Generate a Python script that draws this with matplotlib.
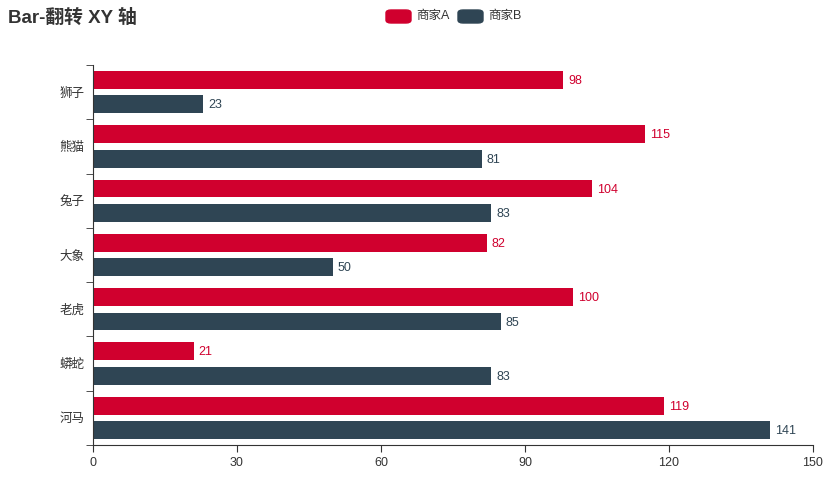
import numpy as np
import matplotlib.pyplot as plt
from matplotlib.patches import FancyBboxPatch

plt.rcParams['font.family'] = ['Liberation Sans', 'Noto Sans CJK SC', 'DejaVu Sans']

# data (top to bottom)
categories = ['狮子', '熊猫', '兔子', '大象', '老虎', '蟒蛇', '河马']
shop_a = [98, 115, 104, 82, 100, 21, 119]
shop_b = [23, 81, 83, 50, 85, 83, 141]
series_names = ['商家A', '商家B']
colors = ['#d0002e', '#2f4554']
x_ticks = [0, 30, 60, 90, 120, 150]

fig = plt.figure(figsize=(8.34, 4.83), dpi=100)
ax = fig.add_axes([0.1115, 0.0787, 0.8633, 0.7867])

y = np.arange(len(categories))
h = 0.33
off = 0.225
ax.barh(y - off, shop_a, height=h, color=colors[0])
ax.barh(y + off, shop_b, height=h, color=colors[1])

for yi, v in zip(y, shop_a):
    ax.text(v + 1, yi - off + 0.02, str(v), color=colors[0], fontsize=9, va='center', ha='left')
for yi, v in zip(y, shop_b):
    ax.text(v + 1, yi + off + 0.02, str(v), color=colors[1], fontsize=9, va='center', ha='left')

ax.set_xlim(0, 150)
ax.set_ylim(len(categories) - 0.5, -0.5)
ax.set_xticks(x_ticks)
ax.set_yticks(y)
ax.set_yticklabels(categories)
ax.set_yticks(np.arange(len(categories) + 1) - 0.5, minor=True)
ax.tick_params(axis='y', which='major', length=0, pad=6, labelsize=9, labelcolor='#333333')
ax.tick_params(axis='y', which='minor', length=5, color='#333333')
ax.tick_params(axis='x', length=5, color='#333333', labelsize=9, labelcolor='#333333')
for s in ['top', 'right']:
    ax.spines[s].set_visible(False)
for s in ['left', 'bottom']:
    ax.spines[s].set_color('#333333')

fig.text(8 / 834, 1 - 18 / 483, 'Bar-翻转 XY 轴', fontsize=13.5, fontweight='bold',
         color='#333333', va='center', ha='left')

# legend
lx = [386, 458]
for i, name in enumerate(series_names):
    fig.patches.append(FancyBboxPatch((lx[i] / 834, 1 - 23 / 483), 25 / 834, 13 / 483,
                                      boxstyle='round,pad=0,rounding_size=0.006',
                                      transform=fig.transFigure, color=colors[i]))
    fig.text((lx[i] + 30) / 834, 1 - 16.5 / 483, name, fontsize=9, color='#333333',
             va='center', ha='left')

fig.savefig('out.png', dpi=100)
